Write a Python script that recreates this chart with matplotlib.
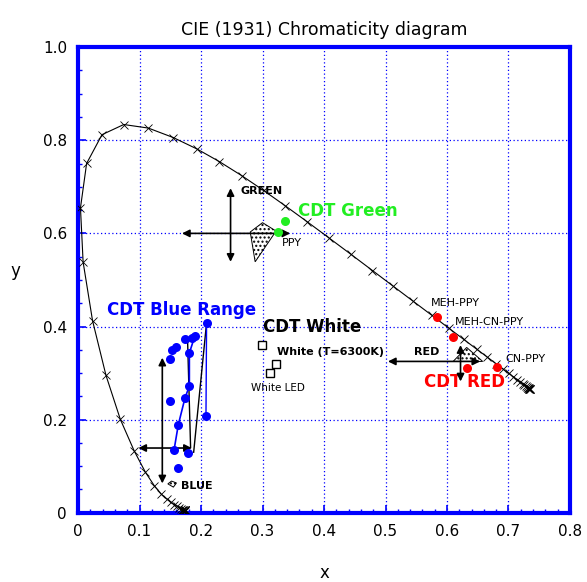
import matplotlib
matplotlib.use("Agg")
import matplotlib.pyplot as plt
from matplotlib.patches import Polygon
from matplotlib.ticker import MultipleLocator

# Spectral locus (CIE 1931, 380-700 nm, 5 nm steps)
locus_x = [0.1741, 0.1740, 0.1738, 0.1736, 0.1733, 0.1730, 0.1726, 0.1721, 0.1714, 0.1703,
           0.1689, 0.1669, 0.1644, 0.1611, 0.1566, 0.1510, 0.1440, 0.1355, 0.1241, 0.1096,
           0.0913, 0.0687, 0.0454, 0.0235, 0.0082, 0.0039, 0.0139, 0.0389, 0.0743, 0.1142,
           0.1547, 0.1929, 0.2296, 0.2658, 0.3016, 0.3373, 0.3731, 0.4087, 0.4441, 0.4788,
           0.5125, 0.5448, 0.5752, 0.6029, 0.6270, 0.6482, 0.6658, 0.6801, 0.6915, 0.7006,
           0.7079, 0.7140, 0.7190, 0.7230, 0.7260, 0.7283, 0.7300, 0.7311, 0.7320, 0.7327,
           0.7334, 0.7340, 0.7344, 0.7346, 0.7347]
locus_y = [0.0050, 0.0050, 0.0049, 0.0049, 0.0048, 0.0048, 0.0048, 0.0048, 0.0051, 0.0058,
           0.0069, 0.0086, 0.0109, 0.0138, 0.0177, 0.0227, 0.0297, 0.0399, 0.0578, 0.0868,
           0.1327, 0.2007, 0.2950, 0.4127, 0.5384, 0.6548, 0.7502, 0.8120, 0.8338, 0.8262,
           0.8059, 0.7816, 0.7543, 0.7243, 0.6923, 0.6589, 0.6245, 0.5896, 0.5547, 0.5202,
           0.4866, 0.4544, 0.4242, 0.3965, 0.3725, 0.3514, 0.3340, 0.3197, 0.3083, 0.2993,
           0.2920, 0.2859, 0.2809, 0.2770, 0.2740, 0.2717, 0.2700, 0.2689, 0.2680, 0.2673,
           0.2666, 0.2660, 0.2656, 0.2654, 0.2653]

# CDT Blue range points
blue_x = [0.209, 0.190, 0.185, 0.174, 0.160, 0.152, 0.150, 0.181, 0.181, 0.174, 0.150,
          0.163, 0.156, 0.179, 0.163, 0.208]
blue_y = [0.408, 0.380, 0.375, 0.373, 0.357, 0.350, 0.330, 0.343, 0.272, 0.247, 0.239,
          0.189, 0.134, 0.129, 0.097, 0.207]
blue_line_x = [0.190, 0.181, 0.181, 0.174, 0.163, 0.156]
blue_line_y = [0.380, 0.343, 0.272, 0.247, 0.189, 0.134]
blue_line2_x = [0.209, 0.208]
blue_line2_y = [0.408, 0.207]
blue_black1_x = [0.209, 0.188]
blue_black1_y = [0.408, 0.130]
blue_black2_x = [0.178, 0.183]
blue_black2_y = [0.375, 0.140]

# Green
green_x = [0.336, 0.325]
green_y = [0.627, 0.602]
green_poly = [(0.280, 0.603), (0.300, 0.623), (0.322, 0.605), (0.288, 0.539)]

# Red
red_x = [0.583, 0.610, 0.632, 0.682]
red_y = [0.420, 0.378, 0.310, 0.314]
red_poly = [(0.610, 0.325), (0.632, 0.355), (0.658, 0.325)]

# White
white_x = [0.299, 0.322, 0.312]
white_y = [0.360, 0.319, 0.300]

blue_poly = [(0.146, 0.062), (0.152, 0.068), (0.160, 0.064), (0.155, 0.055)]

BLUE = "#0000ff"
fig = plt.figure(figsize=(5.87, 5.82), dpi=100)
ax = fig.add_axes([0.133, 0.119, 0.838, 0.800])

ax.set_xlim(0, 0.8)
ax.set_ylim(0, 1.0)
ax.xaxis.set_major_locator(MultipleLocator(0.1))
ax.xaxis.set_minor_locator(MultipleLocator(0.02))
ax.yaxis.set_major_locator(MultipleLocator(0.2))
ax.yaxis.set_minor_locator(MultipleLocator(0.05))
ax.set_xticks([0, 0.1, 0.2, 0.3, 0.4, 0.5, 0.6, 0.7, 0.8])
ax.set_xticklabels(["0", "0.1", "0.2", "0.3", "0.4", "0.5", "0.6", "0.7", "0.8"])
ax.set_yticks([0, 0.2, 0.4, 0.6, 0.8, 1.0])
ax.set_yticklabels(["0", "0.2", "0.4", "0.6", "0.8", "1.0"])
ax.tick_params(which="both", direction="in", color=BLUE, labelsize=11)
ax.tick_params(which="major", length=6, width=1.2, pad=8)
ax.tick_params(which="minor", length=3, width=1.0)
for s in ax.spines.values():
    s.set_color(BLUE)
    s.set_linewidth(3)
ax.grid(True, which="major", color=BLUE, linestyle=(0, (1, 2)), linewidth=0.9)
ax.set_axisbelow(True)

ax.set_title("CIE (1931) Chromaticity diagram", fontsize=12.5, pad=9)
ax.set_xlabel("x", fontsize=12, labelpad=18)
ax.set_ylabel("y", fontsize=12, rotation=0, labelpad=20)

# locus
ax.plot(locus_x, locus_y, color="black", linewidth=0.8, marker="x", markersize=5.5,
        markeredgewidth=0.6, zorder=3)

def arrow(x0, y0, x1, y1):
    ax.annotate("", xy=(x1, y1), xytext=(x0, y0),
                arrowprops=dict(arrowstyle="<|-|>", color="black", lw=1.2,
                                mutation_scale=11, shrinkA=0, shrinkB=0), zorder=4)

# Blue
ax.plot(blue_black1_x, blue_black1_y, color="black", lw=1.0, zorder=3)
ax.plot(blue_black2_x, blue_black2_y, color="black", lw=1.0, zorder=3)
ax.plot(blue_line_x, blue_line_y, color=BLUE, lw=1.2, zorder=4)
ax.plot(blue_line2_x, blue_line2_y, color=BLUE, lw=1.0, zorder=4)
ax.plot(blue_x, blue_y, "o", color=BLUE, markersize=6.5, markeredgewidth=0, zorder=5)
arrow(0.137, 0.063, 0.137, 0.333)
arrow(0.098, 0.139, 0.185, 0.139)
ax.add_patch(Polygon(blue_poly, closed=True, facecolor="white", edgecolor="black",
                     hatch="....", lw=0.7, zorder=4))
ax.text(0.167, 0.058, "BLUE", fontsize=8, fontweight="bold", va="center", ha="left")
ax.text(0.047, 0.436, "CDT Blue Range", fontsize=12, fontweight="bold", color=BLUE,
        va="center", ha="left")

# Green
ax.add_patch(Polygon(green_poly, closed=True, facecolor="white", edgecolor="black",
                     hatch="....", lw=0.7, zorder=4))
arrow(0.169, 0.600, 0.345, 0.600)
arrow(0.248, 0.539, 0.248, 0.697)
ax.plot(green_x, green_y, "o", color="#22ee22", markersize=6.5, markeredgewidth=0, zorder=5)
ax.text(0.264, 0.690, "GREEN", fontsize=8, fontweight="bold", va="center", ha="left")
ax.text(0.358, 0.649, "CDT Green", fontsize=12, fontweight="bold", color="#22ee22",
        va="center", ha="left")
ax.text(0.331, 0.579, "PPY", fontsize=8, va="center", ha="left")

# Red
ax.add_patch(Polygon(red_poly, closed=True, facecolor="white", edgecolor="black",
                     hatch="....", lw=0.7, zorder=4))
arrow(0.504, 0.325, 0.654, 0.325)
arrow(0.622, 0.282, 0.622, 0.360)
ax.plot(red_x, red_y, "o", color="#ff0000", markersize=6.5, markeredgewidth=0, zorder=5)
ax.text(0.573, 0.451, "MEH-PPY", fontsize=8, va="center", ha="left")
ax.text(0.613, 0.410, "MEH-CN-PPY", fontsize=8, va="center", ha="left")
ax.text(0.695, 0.330, "CN-PPY", fontsize=8, va="center", ha="left")
ax.text(0.546, 0.346, "RED", fontsize=8, fontweight="bold", va="center", ha="left")
ax.text(0.563, 0.280, "CDT RED", fontsize=12, fontweight="bold", color="#ff0000",
        va="center", ha="left")

# White
ax.plot(white_x, white_y, "s", markerfacecolor="white", markeredgecolor="black",
        markersize=6, markeredgewidth=1.0, zorder=5)
ax.text(0.300, 0.398, "CDT White", fontsize=12, fontweight="bold", va="center", ha="left")
ax.text(0.323, 0.346, "White (T=6300K)", fontsize=8, fontweight="bold", va="center", ha="left")
ax.text(0.282, 0.268, "White LED", fontsize=7.5, va="center", ha="left")

fig.savefig("out.png", dpi=100)
